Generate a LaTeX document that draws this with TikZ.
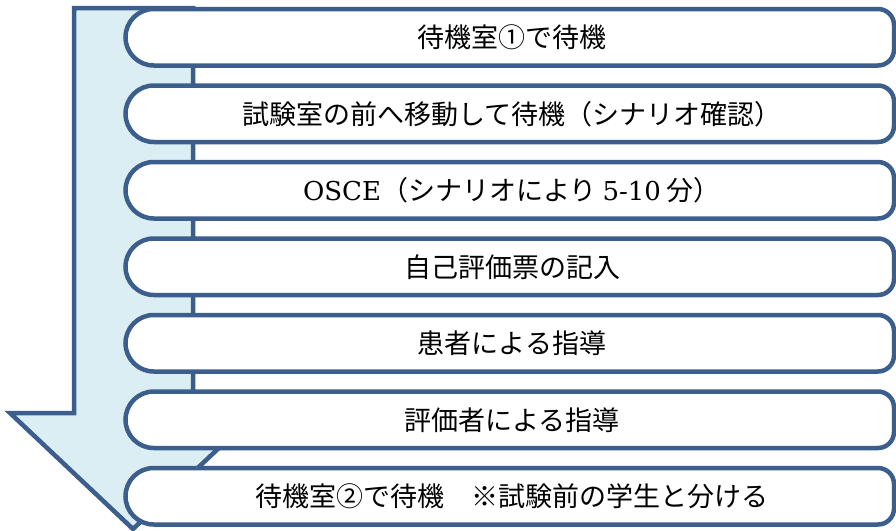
\documentclass[tikz,border=0pt]{standalone}
\usepackage{fontspec}
\newfontfamily\jp{Noto Sans CJK JP}
\newfontfamily\lat{DejaVu Serif}
\definecolor{edgeblue}{RGB}{59,94,140}
\definecolor{shaftblue}{RGB}{219,238,244}
\tikzset{
  arrowshape/.style={draw=edgeblue, fill=shaftblue, line width=4.5pt, line join=miter},
  boxline/.style={draw=edgeblue, fill=white, line width=4.5pt},
  lab/.style={inner sep=0pt, text=black, font=\jp\fontsize{27}{30}\selectfont},
}
\newcommand\flowbox[3]{%
  \pgfmathsetmacro\tp{9+76.5*(#2-1)}%
  \pgfmathsetmacro\bt{\tp+56.5}%
  \pgfmathsetmacro\md{\tp+28.25}%
  \draw[boxline] (153.75,\tp) -- (878,\tp) arc[start angle=-90, end angle=0, radius=16]
    -- (894,\bt-16) arc[start angle=0, end angle=90, radius=16]
    -- (153.75,\bt) arc[start angle=90, end angle=270, radius=28.25] -- cycle;
  \node[lab] (#1) at (512,\md) {#3};
}
\begin{document}
\begin{tikzpicture}[x=1pt,y=-1pt]
\useasboundingbox (0,0) rectangle (896,530);
\clip (0,0) rectangle (896,530);
\draw[arrowshape] (74,8) -- (193,8) -- (193,413) -- (256,413) -- (133,529) -- (10,413) -- (74,413) -- cycle;
\flowbox{b1}{1}{待機室①で待機}
\flowbox{b2}{2}{試験室の前へ移動して待機（シナリオ確認）}
\flowbox{b3}{3}{{\lat\fontsize{26}{30}\selectfont OSCE}（シナリオにより {\lat\fontsize{26}{30}\selectfont 5-10} 分）}
\flowbox{b4}{4}{自己評価票の記入}
\flowbox{b5}{5}{患者による指導}
\flowbox{b6}{6}{評価者による指導}
\flowbox{b7}{7}{待機室②で待機　※試験前の学生と分ける}
\end{tikzpicture}
\end{document}
